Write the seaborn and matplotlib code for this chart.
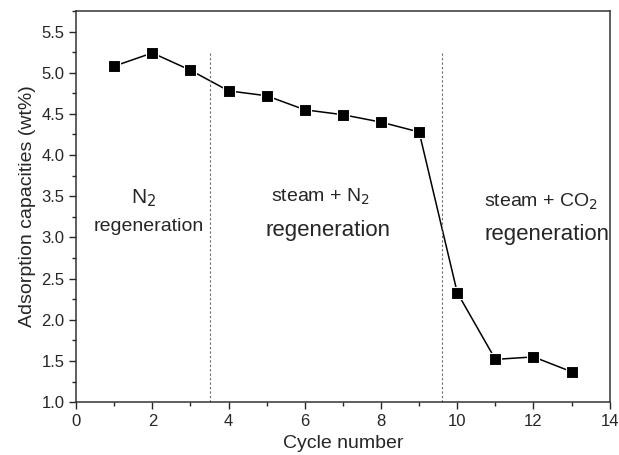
import matplotlib
matplotlib.use("Agg")
import matplotlib.pyplot as plt
import seaborn as sns
import pandas as pd
from matplotlib.ticker import MultipleLocator, FormatStrFormatter

cycles = [1, 2, 3, 4, 5, 6, 7, 8, 9, 10, 11, 12, 13]
capacity = [5.08, 5.24, 5.03, 4.78, 4.72, 4.55, 4.49, 4.40, 4.28, 2.33, 1.52, 1.55, 1.37]
boundaries = [3.5, 9.6]

sns.set_style("ticks")
plt.rcParams["font.family"] = ["Liberation Sans", "DejaVu Sans"]

df = pd.DataFrame({"cycle": cycles, "capacity": capacity})

fig = plt.figure(figsize=(6.19, 4.55), dpi=100)
ax = fig.add_axes([0.123, 0.116, 0.862, 0.86])

sns.lineplot(data=df, x="cycle", y="capacity", ax=ax, color="black",
             marker="s", markersize=8, markeredgecolor="white",
             markeredgewidth=0.8, linewidth=1.1)

# regeneration regime boundaries
for b in boundaries:
    ax.plot([b, b], [1.0, 5.25], color="dimgray", linestyle=(0, (2, 2)), linewidth=0.8)

ax.text(1.78, 3.48, "N$_2$", ha="center", va="center", fontsize=15)
ax.text(1.9, 3.13, "regeneration", ha="center", va="center", fontsize=14)
ax.text(6.4, 3.49, "steam + N$_2$", ha="center", va="center", fontsize=14)
ax.text(6.6, 3.09, "regeneration", ha="center", va="center", fontsize=16)
ax.text(12.2, 3.43, "steam + CO$_2$", ha="center", va="center", fontsize=14)
ax.text(12.35, 3.04, "regeneration", ha="center", va="center", fontsize=16)

ax.set_xlim(0, 14)
ax.set_ylim(1.0, 5.75)
ax.xaxis.set_major_locator(MultipleLocator(2))
ax.xaxis.set_minor_locator(MultipleLocator(1))
ax.yaxis.set_major_locator(MultipleLocator(0.5))
ax.yaxis.set_minor_locator(MultipleLocator(0.25))
ax.yaxis.set_major_formatter(FormatStrFormatter("%.1f"))
ax.tick_params(which="major", length=5, width=1, labelsize=12, direction="out")
ax.tick_params(which="minor", length=3, width=1, direction="out")
for s in ax.spines.values():
    s.set_linewidth(1.1)
    s.set_color("#333333")

ax.set_xlabel("Cycle number", fontsize=14, labelpad=4)
ax.set_ylabel("Adsorption capacities (wt%)", fontsize=14)

fig.savefig("out.png", dpi=100)
